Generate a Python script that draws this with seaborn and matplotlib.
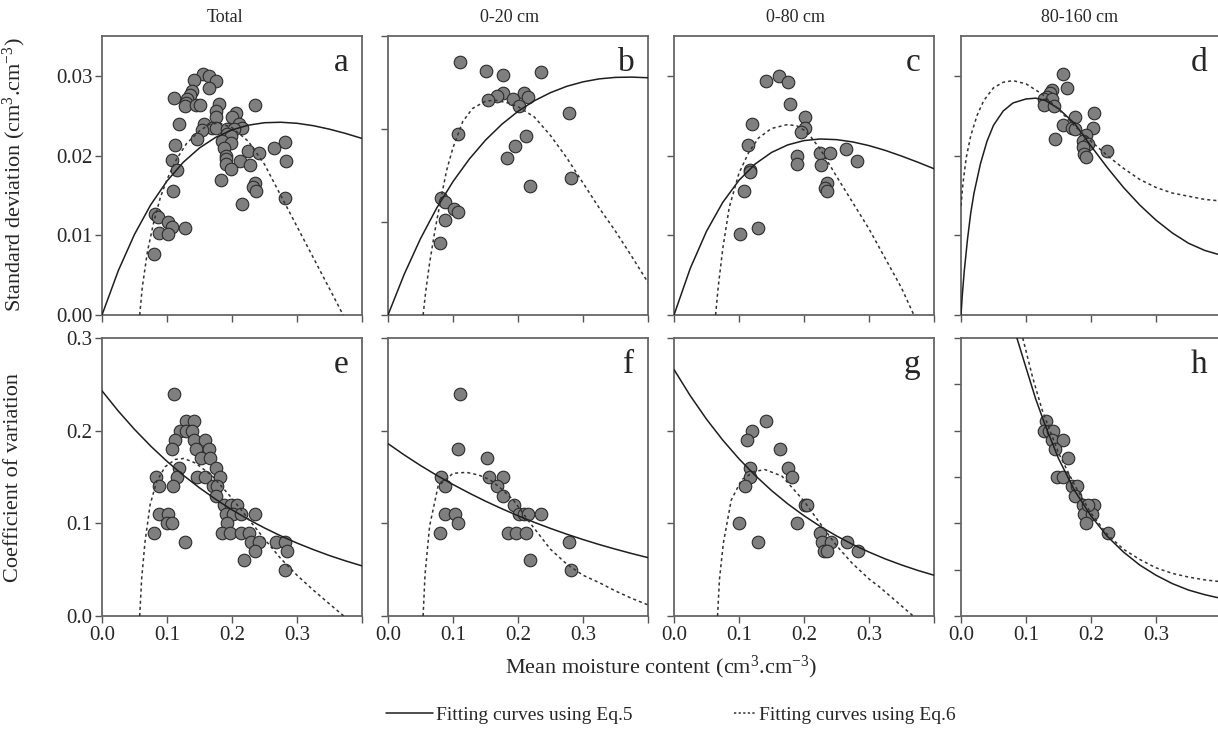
import matplotlib
matplotlib.use('Agg')
import matplotlib.pyplot as plt
import seaborn as sns
from matplotlib.lines import Line2D

# %% values
col_titles = ['Total', '0-20 cm', '0-80 cm', '80-160 cm']
letters = ['a', 'b', 'c', 'd', 'e', 'f', 'g', 'h']

x_ticks = [0.0, 0.1, 0.2, 0.3, 0.4]
x_ticklabels = ['0.0', '0.1', '0.2', '0.3', '']
sd_ticks = [0.0, 0.01, 0.02, 0.03]
sd_ticklabels = ['0.00', '0.01', '0.02', '0.03']
cv_ticks = [0.0, 0.1, 0.2, 0.3]
cv_ticklabels = ['0.0', '0.1', '0.2', '0.3']
cv_ticks_h = [0.0, 0.05, 0.1, 0.15, 0.2, 0.25, 0.3]

# standard deviation, Total (a)
a_x = [0.156, 0.164, 0.142, 0.176, 0.164, 0.138, 0.135, 0.111, 0.131, 0.129, 0.127, 0.144, 0.151,
       0.180, 0.236, 0.176, 0.176, 0.206, 0.200, 0.119, 0.157, 0.169, 0.176, 0.154, 0.211, 0.216,
       0.193, 0.203, 0.146, 0.193, 0.198, 0.185, 0.198, 0.188, 0.281, 0.265, 0.113, 0.225, 0.241,
       0.190, 0.190, 0.107, 0.212, 0.283, 0.190, 0.227, 0.115, 0.198, 0.183, 0.236, 0.232, 0.237,
       0.109, 0.282, 0.216, 0.082, 0.086, 0.101, 0.107, 0.127, 0.087, 0.101, 0.080]
a_y = [0.0302, 0.0300, 0.0295, 0.0293, 0.0285, 0.0281, 0.0276, 0.0272, 0.0271, 0.0266, 0.0262,
       0.0263, 0.0263, 0.0265, 0.0263, 0.0256, 0.0248, 0.0254, 0.0248, 0.0239, 0.0240, 0.0235,
       0.0234, 0.0232, 0.0240, 0.0235, 0.0233, 0.0233, 0.0221, 0.0227, 0.0225, 0.0218, 0.0216,
       0.0210, 0.0217, 0.0209, 0.0213, 0.0206, 0.0203, 0.0200, 0.0196, 0.0195, 0.0193, 0.0193,
       0.0189, 0.0188, 0.0182, 0.0183, 0.0169, 0.0165, 0.0160, 0.0155, 0.0155, 0.0147, 0.0139,
       0.0127, 0.0123, 0.0117, 0.0111, 0.0109, 0.0103, 0.0102, 0.0077]

# standard deviation, 0-20 cm (b)
b_x = [0.111, 0.151, 0.177, 0.236, 0.177, 0.168, 0.154, 0.193, 0.209, 0.215, 0.201, 0.279,
       0.107, 0.212, 0.196, 0.183, 0.281, 0.218, 0.082, 0.088, 0.102, 0.107, 0.087, 0.080]
b_y = [0.0272, 0.0262, 0.0258, 0.0261, 0.0239, 0.0235, 0.0231, 0.0232, 0.0239, 0.0234, 0.0225,
       0.0217, 0.0195, 0.0193, 0.0182, 0.0169, 0.0147, 0.0139, 0.0126, 0.0121, 0.0114, 0.0111,
       0.0102, 0.0077]

# standard deviation, 0-80 cm (c)
c_x = [0.162, 0.141, 0.176, 0.179, 0.120, 0.201, 0.202, 0.196, 0.114, 0.189, 0.189, 0.224,
       0.240, 0.265, 0.282, 0.226, 0.117, 0.117, 0.235, 0.232, 0.236, 0.108, 0.129, 0.101]
c_y = [0.0300, 0.0294, 0.0292, 0.0265, 0.0239, 0.0248, 0.0235, 0.0229, 0.0213, 0.0200, 0.0190,
       0.0203, 0.0203, 0.0208, 0.0193, 0.0188, 0.0182, 0.0180, 0.0165, 0.0159, 0.0155, 0.0155,
       0.0109, 0.0101]

# standard deviation, 80-160 cm (d)
d_x = [0.157, 0.163, 0.140, 0.137, 0.132, 0.127, 0.140, 0.128, 0.143, 0.205, 0.176, 0.157,
       0.170, 0.175, 0.203, 0.192, 0.145, 0.187, 0.196, 0.188, 0.225, 0.189, 0.192]
d_y = [0.0302, 0.0285, 0.0282, 0.0278, 0.0273, 0.0271, 0.0271, 0.0263, 0.0262, 0.0253, 0.0248,
       0.0238, 0.0234, 0.0233, 0.0235, 0.0226, 0.0221, 0.0218, 0.0215, 0.0211, 0.0206, 0.0202,
       0.0198]

# coefficient of variation, Total (e)
e_x = [0.111, 0.129, 0.142, 0.120, 0.129, 0.139, 0.113, 0.142, 0.158, 0.107, 0.144, 0.164,
       0.153, 0.166, 0.118, 0.176, 0.083, 0.115, 0.146, 0.158, 0.181, 0.087, 0.109, 0.170,
       0.177, 0.176, 0.188, 0.198, 0.207, 0.087, 0.102, 0.190, 0.202, 0.214, 0.236, 0.100,
       0.107, 0.193, 0.080, 0.184, 0.197, 0.214, 0.226, 0.128, 0.229, 0.242, 0.267, 0.281,
       0.236, 0.284, 0.219, 0.282]
e_y = [0.24, 0.21, 0.21, 0.20, 0.20, 0.20, 0.19, 0.19, 0.19, 0.18, 0.18, 0.18, 0.17, 0.17,
       0.16, 0.16, 0.15, 0.15, 0.15, 0.15, 0.15, 0.14, 0.14, 0.14, 0.14, 0.13, 0.12, 0.12,
       0.12, 0.11, 0.11, 0.11, 0.11, 0.11, 0.11, 0.10, 0.10, 0.10, 0.09, 0.09, 0.09, 0.09,
       0.09, 0.08, 0.08, 0.08, 0.08, 0.08, 0.07, 0.07, 0.06, 0.05]

# coefficient of variation, 0-20 cm (f)
f_x = [0.111, 0.107, 0.152, 0.082, 0.155, 0.177, 0.088, 0.168, 0.177, 0.194, 0.088, 0.103,
       0.201, 0.209, 0.216, 0.236, 0.108, 0.080, 0.184, 0.197, 0.213, 0.279, 0.218, 0.281]
f_y = [0.24, 0.18, 0.17, 0.15, 0.15, 0.15, 0.14, 0.14, 0.13, 0.12, 0.11, 0.11, 0.11, 0.11,
       0.11, 0.11, 0.10, 0.09, 0.09, 0.09, 0.09, 0.08, 0.06, 0.05]

# coefficient of variation, 0-80 cm (g)
g_x = [0.141, 0.120, 0.113, 0.163, 0.117, 0.176, 0.117, 0.181, 0.109, 0.201, 0.205, 0.100,
       0.189, 0.225, 0.227, 0.241, 0.266, 0.231, 0.235, 0.283, 0.129]
g_y = [0.21, 0.20, 0.19, 0.18, 0.16, 0.16, 0.15, 0.15, 0.14, 0.12, 0.12, 0.10, 0.10, 0.09,
       0.08, 0.08, 0.08, 0.07, 0.07, 0.07, 0.08]

# coefficient of variation, 80-160 cm (h)
h_x = [0.130, 0.127, 0.135, 0.142, 0.140, 0.157, 0.144, 0.164, 0.147, 0.157, 0.170, 0.178,
       0.175, 0.188, 0.205, 0.189, 0.202, 0.193, 0.226, 0.195]
h_y = [0.21, 0.20, 0.20, 0.20, 0.19, 0.19, 0.18, 0.17, 0.15, 0.15, 0.14, 0.14, 0.13, 0.12,
       0.12, 0.11, 0.11, 0.10, 0.09, 0.12]

# fitted curves
grid_x = [0.0, 0.025, 0.05, 0.075, 0.1, 0.125, 0.15, 0.175, 0.2, 0.225, 0.25, 0.275, 0.3,
          0.325, 0.35, 0.375, 0.4]
a_eq5 = [0.0, 0.00555, 0.01012, 0.01383, 0.01681, 0.01916, 0.02096, 0.02229, 0.02322, 0.02381,
         0.02412, 0.02418, 0.02405, 0.02375, 0.02331, 0.02277, 0.02215]
b_eq5 = [0.0, 0.00439, 0.00821, 0.01151, 0.01435, 0.01676, 0.01880, 0.02050, 0.02190, 0.02303,
         0.02391, 0.02459, 0.02507, 0.02539, 0.02555, 0.02558, 0.02551]
c_eq5 = [0.0, 0.00585, 0.01050, 0.01413, 0.01690, 0.01895, 0.02039, 0.02134, 0.02188, 0.02208,
         0.02200, 0.02171, 0.02125, 0.02065, 0.01994, 0.01917, 0.01835]
e_eq5 = [0.243, 0.2212, 0.2014, 0.1833, 0.1669, 0.1519, 0.1383, 0.1259, 0.1146, 0.1043, 0.0950,
         0.0865, 0.0787, 0.0717, 0.0652, 0.0594, 0.0541]
f_eq5 = [0.186, 0.1738, 0.1624, 0.1518, 0.1419, 0.1326, 0.1239, 0.1158, 0.1082, 0.1011, 0.0945,
         0.0883, 0.0825, 0.0771, 0.0721, 0.0674, 0.0630]
g_eq5 = [0.266, 0.2377, 0.2124, 0.1898, 0.1696, 0.1516, 0.1354, 0.1210, 0.1082, 0.0967, 0.0864,
         0.0772, 0.0690, 0.0616, 0.0551, 0.0492, 0.0440]

d_eq5_x = [0.0, 0.002, 0.005, 0.01, 0.015, 0.02, 0.03, 0.04, 0.05, 0.065, 0.08, 0.1, 0.115, 0.13,
           0.15, 0.175, 0.2, 0.225, 0.25, 0.275, 0.3, 0.325, 0.35, 0.375, 0.4]
d_eq5_y = [0.0, 0.0025, 0.0055, 0.0095, 0.0128, 0.0153, 0.0190, 0.0218, 0.0238, 0.0256, 0.0266,
           0.0271, 0.0272, 0.0269, 0.0259, 0.0240, 0.0212, 0.0185, 0.0160, 0.0138, 0.0119,
           0.0103, 0.0090, 0.0081, 0.0075]
h_eq5_x = [0.086, 0.1, 0.115, 0.13, 0.15, 0.175, 0.2, 0.225, 0.25, 0.275, 0.3, 0.325, 0.35,
           0.375, 0.4]
h_eq5_y = [0.300, 0.268, 0.234, 0.205, 0.170, 0.135, 0.108, 0.086, 0.069, 0.055, 0.044, 0.035,
           0.028, 0.023, 0.019]

a_eq6_x = [0.058, 0.062, 0.07, 0.08, 0.09, 0.1, 0.115, 0.13, 0.15, 0.165, 0.18, 0.2, 0.225,
           0.25, 0.275, 0.3, 0.325, 0.35, 0.371]
a_eq6_y = [0.0, 0.0035, 0.0080, 0.0118, 0.0148, 0.0170, 0.0196, 0.0215, 0.0231, 0.0239, 0.0241,
           0.0235, 0.0218, 0.0189, 0.0150, 0.0111, 0.0072, 0.0033, 0.0]
b_eq6_x = [0.054, 0.058, 0.064, 0.072, 0.08, 0.09, 0.1, 0.115, 0.13, 0.15, 0.165, 0.185, 0.2,
           0.225, 0.25, 0.275, 0.3, 0.325, 0.35, 0.375, 0.4]
b_eq6_y = [0.0, 0.0025, 0.0056, 0.0090, 0.0120, 0.0155, 0.0180, 0.0208, 0.0222, 0.0230, 0.0231,
           0.0228, 0.0224, 0.0213, 0.0193, 0.0169, 0.0142, 0.0115, 0.0090, 0.0063, 0.0035]
c_eq6_x = [0.064, 0.068, 0.075, 0.085, 0.1, 0.115, 0.13, 0.15, 0.175, 0.19, 0.2, 0.21, 0.225,
           0.25, 0.275, 0.3, 0.325, 0.35, 0.369]
c_eq6_y = [0.0, 0.0035, 0.0083, 0.0135, 0.0178, 0.0204, 0.0222, 0.0234, 0.0239, 0.0237, 0.0232,
           0.0224, 0.0208, 0.0174, 0.0141, 0.0108, 0.0071, 0.0034, 0.0]
d_eq6_x = [0.0, 0.003, 0.008, 0.015, 0.025, 0.035, 0.05, 0.065, 0.08, 0.1, 0.125, 0.15, 0.175,
           0.2, 0.225, 0.25, 0.275, 0.3, 0.325, 0.35, 0.375, 0.4]
d_eq6_y = [0.0137, 0.0165, 0.0197, 0.0225, 0.0251, 0.0269, 0.0285, 0.0292, 0.0294, 0.0290,
           0.0277, 0.0258, 0.0237, 0.0218, 0.0200, 0.0184, 0.0170, 0.0160, 0.0153, 0.0149,
           0.0145, 0.0143]
e_eq6_x = [0.058, 0.061, 0.066, 0.074, 0.084, 0.097, 0.113, 0.126, 0.144, 0.17, 0.2, 0.225,
           0.25, 0.275, 0.3, 0.325, 0.35, 0.372]
e_eq6_y = [0.0, 0.040, 0.079, 0.120, 0.145, 0.161, 0.169, 0.170, 0.165, 0.151, 0.127, 0.105,
           0.083, 0.062, 0.044, 0.028, 0.013, 0.0]
f_eq6_x = [0.054, 0.057, 0.064, 0.077, 0.1, 0.121, 0.14, 0.157, 0.175, 0.193, 0.219, 0.25,
           0.275, 0.3, 0.325, 0.35, 0.375, 0.4]
f_eq6_y = [0.0, 0.045, 0.097, 0.140, 0.154, 0.155, 0.152, 0.147, 0.137, 0.125, 0.100, 0.072,
           0.056, 0.044, 0.036, 0.027, 0.019, 0.012]
g_eq6_x = [0.067, 0.07, 0.076, 0.088, 0.104, 0.124, 0.14, 0.166, 0.2, 0.232, 0.25, 0.274, 0.3,
           0.315, 0.34, 0.368]
g_eq6_y = [0.0, 0.040, 0.079, 0.125, 0.147, 0.156, 0.158, 0.151, 0.124, 0.093, 0.076, 0.057,
           0.040, 0.032, 0.017, 0.0]
h_eq6_x = [0.095, 0.11, 0.125, 0.15, 0.175, 0.2, 0.225, 0.25, 0.275, 0.3, 0.325, 0.35, 0.375,
           0.4]
h_eq6_y = [0.300, 0.258, 0.222, 0.176, 0.141, 0.111, 0.088, 0.072, 0.061, 0.052, 0.046, 0.042,
           0.039, 0.037]

# %% style
sns.set_style('ticks')
plt.rcParams['font.family'] = ['Liberation Serif', 'DejaVu Serif']
plt.rcParams['mathtext.fontset'] = 'custom'
plt.rcParams['mathtext.rm'] = 'Liberation Serif'
plt.rcParams['mathtext.it'] = 'Liberation Serif:italic'

W, H = 1218, 729
fig = plt.figure(figsize=(W / 100, H / 100), dpi=100)

lefts = [102, 388, 674, 961]
tops = [36, 338]
heights = [279, 278]
width = 260

panels = [
    (a_x, a_y, grid_x, a_eq5, a_eq6_x, a_eq6_y, 0.035, sd_ticks),
    (b_x, b_y, grid_x, b_eq5, b_eq6_x, b_eq6_y, 0.030, sd_ticks),
    (c_x, c_y, grid_x, c_eq5, c_eq6_x, c_eq6_y, 0.035, sd_ticks),
    (d_x, d_y, d_eq5_x, d_eq5_y, d_eq6_x, d_eq6_y, 0.035, sd_ticks),
    (e_x, e_y, grid_x, e_eq5, e_eq6_x, e_eq6_y, 0.3, cv_ticks),
    (f_x, f_y, grid_x, f_eq5, f_eq6_x, f_eq6_y, 0.3, cv_ticks),
    (g_x, g_y, grid_x, g_eq5, g_eq6_x, g_eq6_y, 0.3, cv_ticks),
    (h_x, h_y, h_eq5_x, h_eq5_y, h_eq6_x, h_eq6_y, 0.3, cv_ticks_h),
]

dotted = (0, (2, 2))
for i, (px, py, sx, sy, dx, dy, ytop, yt) in enumerate(panels):
    row, col = divmod(i, 4)
    ax = fig.add_axes([lefts[col] / W, 1 - (tops[row] + heights[row]) / H,
                       width / W, heights[row] / H])
    sns.scatterplot(x=px, y=py, ax=ax, s=82, color='#7f7f7f', edgecolor='#2b2b2b',
                    linewidth=0.8, zorder=2, legend=False)
    sns.lineplot(x=sx, y=sy, ax=ax, color='#1e1e1e', linewidth=1.1, zorder=3,
                 estimator=None, sort=False)
    sns.lineplot(x=dx, y=dy, ax=ax, color='#333333', linewidth=1.1, linestyle=dotted,
                 zorder=3, estimator=None, sort=False)
    ax.set_xlim(0, 0.4)
    ax.set_ylim(0, ytop)
    ax.set_xticks(x_ticks)
    ax.set_yticks(yt)
    if row == 1:
        ax.set_xticklabels(x_ticklabels)
    else:
        ax.set_xticklabels([])
    if i == 0:
        ax.set_yticklabels(sd_ticklabels)
    elif i == 4:
        ax.set_yticklabels(cv_ticklabels)
    else:
        ax.set_yticklabels([])
    ax.tick_params(direction='out', length=5, width=1, color='#555555',
                   labelsize=15, pad=2)
    for sp in ax.spines.values():
        sp.set_color('#666666')
        sp.set_linewidth(1.3)
    ax.text(0.948, 0.875, letters[i], transform=ax.transAxes, ha='right',
            va='baseline', fontsize=24)

# column titles
for x_px, t in zip([225, 510, 795, 1080], col_titles):
    fig.text(x_px / W, 1 - 17 / H, t, ha='center', va='center', fontsize=13)

fig.text(14 / W, 1 - 175 / H, 'Standard deviation (cm$^3$.cm$^{-3}$)', rotation=90,
         ha='center', va='center', fontsize=16)
fig.text(14 / W, 1 - 477 / H, 'Coefficient of variation', rotation=90,
         ha='center', va='center', fontsize=16)
fig.text(661 / W, 1 - 667 / H, 'Mean moisture content (cm$^3$.cm$^{-3}$)',
         ha='center', va='center', fontsize=16)

# two legend entries, each with its own handle length as in the original
fig.legend([Line2D([], [], color='#1e1e1e', linewidth=1.1)], ['Fitting curves using Eq.5'],
           loc='center left', bbox_to_anchor=(386 / W, 1 - 715 / H), frameon=False,
           fontsize=14, handlelength=2.4, handletextpad=0.15, borderpad=0,
           borderaxespad=0)
fig.legend([Line2D([], [], color='#333333', linewidth=1.1, linestyle=(0, (1.5, 1.5)))],
           ['Fitting curves using Eq.6'],
           loc='center left', bbox_to_anchor=(734 / W, 1 - 715 / H), frameon=False,
           fontsize=14, handlelength=1.1, handletextpad=0.2, borderpad=0,
           borderaxespad=0)

fig.savefig('out.png', dpi=100)
